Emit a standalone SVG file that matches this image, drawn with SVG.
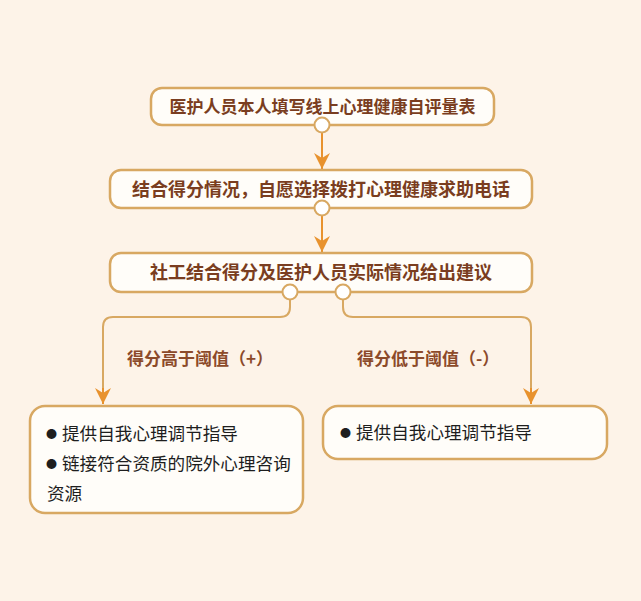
<svg xmlns="http://www.w3.org/2000/svg" width="641" height="601" viewBox="0 0 641 601">
  <style>
    .box { fill: #fffdf9; stroke: #d8a862; stroke-width: 2.5; }
    .dot { fill: #ffffff; stroke: #d8a862; stroke-width: 2; }
    .title { font-family: "Noto Sans CJK SC", "Noto Sans", sans-serif; font-weight: bold; fill: #7a3d20; text-anchor: middle; }
    .label { font-family: "Noto Sans CJK SC", "Noto Sans", sans-serif; font-weight: bold; font-size: 17px; fill: #8c4a2a; }
    .item { font-family: "Noto Sans CJK SC", "Noto Sans", sans-serif; font-size: 17.6px; fill: #1e1e1e; }
    .bullet { font-size: 11px; }
    .main { fill: none; stroke: #e8922e; stroke-width: 2; }
    .branch { fill: none; stroke: #d8a862; stroke-width: 2; }
  </style>
  <defs>
    <marker id="arrow" markerUnits="userSpaceOnUse" markerWidth="18" markerHeight="16" refX="16" refY="8" orient="auto" viewBox="0 0 18 16">
      <path d="M0,0 L16,8 L0,16 L5,8 Z" fill="#e8922e"/>
    </marker>
  </defs>
  <rect x="0" y="0" width="641" height="601" fill="#fdf3e8"/>

  <g id="connectors">
    <path class="main" d="M322,133 V169" marker-end="url(#arrow)"/>
    <path class="main" d="M322,216 V252" marker-end="url(#arrow)"/>
    <path class="branch" d="M290,299 V307 Q290,317 280,317 H113 Q103,317 103,327 V390"/>
    <path class="main" d="M103,388 V404" marker-end="url(#arrow)"/>
    <path class="branch" d="M343,299 V307 Q343,317 353,317 H521 Q531,317 531,327 V390"/>
    <path class="main" d="M531,388 V404" marker-end="url(#arrow)"/>
  </g>

  <g id="node-self-assess">
    <rect class="box" x="151" y="88" width="343" height="37" rx="11"/>
    <text class="title" x="322.5" y="112.5" font-size="17">医护人员本人填写线上心理健康自评量表</text>
    <circle class="dot" cx="322" cy="125" r="7.5"/>
  </g>

  <g id="node-hotline">
    <rect class="box" x="110" y="170" width="422" height="38" rx="11"/>
    <text class="title" x="321" y="195.5" font-size="18">结合得分情况，自愿选择拨打心理健康求助电话</text>
    <circle class="dot" cx="322" cy="208" r="7.5"/>
  </g>

  <g id="node-social-worker">
    <rect class="box" x="110" y="253" width="422" height="39" rx="11"/>
    <text class="title" x="321" y="279" font-size="18">社工结合得分及医护人员实际情况给出建议</text>
    <circle class="dot" cx="290" cy="292" r="7.5"/>
    <circle class="dot" cx="343" cy="292" r="7.5"/>
  </g>

  <g id="label-high">
    <text class="label" x="127" y="365">得分高于阈值（+）</text>
  </g>
  <g id="label-low">
    <text class="label" x="357" y="365">得分低于阈值（-）</text>
  </g>

  <g id="node-high">
    <rect class="box" x="30" y="406" width="273" height="107" rx="15"/>
    <text class="item">
      <tspan class="bullet" x="46" y="438">●</tspan><tspan x="62" y="440">提供自我心理调节指导</tspan>
      <tspan class="bullet" x="46" y="468">●</tspan><tspan x="62" y="470">链接符合资质的院外心理咨询</tspan>
      <tspan x="47" y="500">资源</tspan>
    </text>
  </g>

  <g id="node-low">
    <rect class="box" x="323" y="406" width="284" height="53" rx="15"/>
    <text class="item">
      <tspan class="bullet" x="340" y="437">●</tspan><tspan x="356" y="439">提供自我心理调节指导</tspan>
    </text>
  </g>
</svg>
